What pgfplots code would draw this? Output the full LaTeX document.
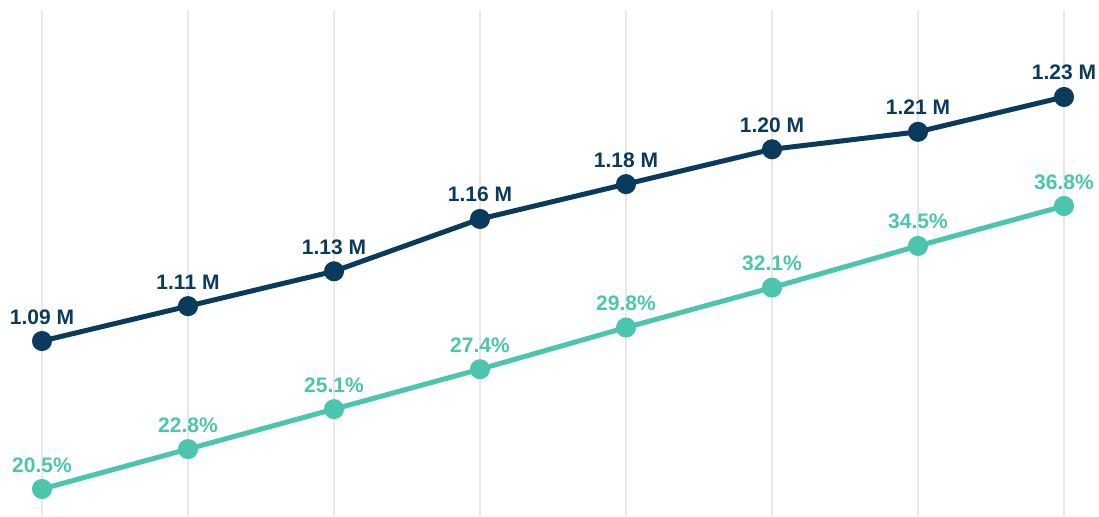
\documentclass[border=0pt]{standalone}
\usepackage{pgfplots}
\usepackage{pgfplotstable}
\usepackage{fontspec}
\setmainfont{Liberation Sans}
\pgfplotsset{compat=1.18}

\definecolor{navy}{HTML}{0A3B5C}
\definecolor{teal}{HTML}{4CC5AF}
\definecolor{gridgray}{HTML}{E8E8E8}

\pgfplotstableread{
x  y     lab
0  1.09  {1.09 M}
1  1.11  {1.11 M}
2  1.13  {1.13 M}
3  1.16  {1.16 M}
4  1.18  {1.18 M}
5  1.20  {1.20 M}
6  1.21  {1.21 M}
7  1.23  {1.23 M}
}\users

\pgfplotstableread{
x  y     lab
0  20.5  {20.5\%}
1  22.8  {22.8\%}
2  25.1  {25.1\%}
3  27.4  {27.4\%}
4  29.8  {29.8\%}
5  32.1  {32.1\%}
6  34.5  {34.5\%}
7  36.8  {36.8\%}
}\share

\pgfplotsset{
  base/.style={
    scale only axis,
    width=511pt, height=253pt,
    at={(21pt,0pt)}, anchor=south west,
    xmin=0, xmax=7,
    axis line style={draw=none},
    major tick length=0pt,
    xtick={0,...,7}, xticklabels={},
    ytick=\empty,
    clip=false,
    nodes near coords,
    point meta=explicit symbolic,
    every node near coord/.append style={anchor=base, yshift=8.5pt, inner sep=0pt,
      font=\fontsize{10.5}{12}\selectfont\bfseries},
  },
}

\begin{document}
\begin{tikzpicture}
\useasboundingbox (0,0) rectangle (549.5pt,258pt);
\begin{axis}[base,
  ymin=0.9896, ymax=1.2799,
  xmajorgrids, grid style={gridgray, line width=1pt},
]
\addplot[navy, line width=2.5pt, mark=*, mark size=3.75pt,
  every node near coord/.append style={text=navy}]
  table[x=x, y=y, meta=lab] {\users};
\end{axis}
\begin{axis}[base,
  ymin=18.945, ymax=48.09,
  xtick=\empty,
]
\addplot[teal, line width=2.5pt, mark=*, mark size=3.75pt,
  every node near coord/.append style={text=teal}]
  table[x=x, y=y, meta=lab] {\share};
\end{axis}
\end{tikzpicture}
\end{document}
